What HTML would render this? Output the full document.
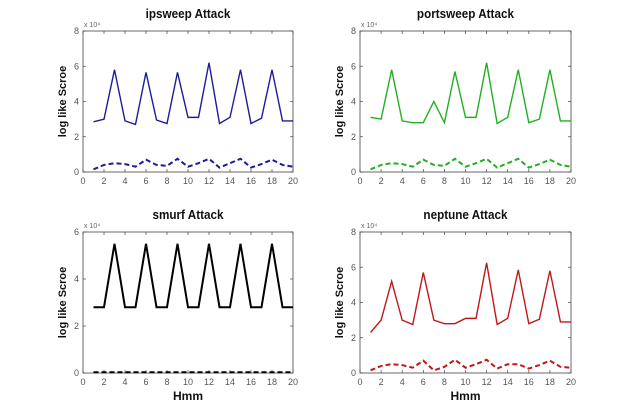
<!DOCTYPE html>
<html><head><meta charset="utf-8"><style>
body{margin:0;background:#fff;}
svg{display:block;font-family:"Liberation Sans",sans-serif;}
</style></head><body>
<svg id="c" width="633" height="413"></svg>
<script>
const xs = [1,2,3,4,5,6,7,8,9,10,11,12,13,14,15,16,17,18,19,20];
const xTicks = [0,2,4,6,8,10,12,14,16,18,20];
const ipsweepSolid = [2.85,3.0,5.8,2.9,2.7,5.65,2.95,2.75,5.65,3.1,3.1,6.2,2.75,3.1,5.8,2.75,3.05,5.8,2.9,2.9];
const ipsweepDash = [0.15,0.4,0.5,0.45,0.3,0.7,0.4,0.35,0.75,0.3,0.5,0.75,0.25,0.5,0.75,0.25,0.45,0.7,0.4,0.3];
const portsweepSolid = [3.1,3.0,5.8,2.9,2.8,2.8,4.0,2.8,5.7,3.1,3.1,6.2,2.75,3.1,5.8,2.8,3.0,5.8,2.9,2.9];
const portsweepDash = [0.15,0.4,0.5,0.45,0.3,0.7,0.4,0.35,0.75,0.3,0.5,0.75,0.25,0.5,0.75,0.25,0.45,0.7,0.4,0.3];
const smurfSolid = [2.8,2.8,5.5,2.8,2.8,5.5,2.8,2.8,5.5,2.8,2.8,5.5,2.8,2.8,5.5,2.8,2.8,5.5,2.8,2.8];
const smurfDash = [0.03,0.03,0.03,0.03,0.03,0.03,0.03,0.03,0.03,0.03,0.03,0.03,0.03,0.03,0.03,0.03,0.03,0.03,0.03,0.03];
const neptuneSolid = [2.3,3.0,5.2,3.0,2.75,5.7,3.0,2.8,2.8,3.1,3.1,6.25,2.75,3.1,5.85,2.8,3.05,5.8,2.9,2.9];
const neptuneDash = [0.15,0.4,0.5,0.45,0.3,0.7,0.15,0.35,0.75,0.3,0.5,0.75,0.25,0.5,0.5,0.25,0.45,0.7,0.35,0.3];
const ticks8 = [0,2,4,6,8];
const ticks6 = [0,2,4,6];

const NS="http://www.w3.org/2000/svg";
const svg=document.getElementById('c');
function mk(t,a,p){const e=document.createElementNS(NS,t);for(const k in a)e.setAttribute(k,a[k]);(p||svg).appendChild(e);return e;}

function panel(id,title,x0,y0,x1,y1,ymax,yt,solid,dash,color,xlabel,sw){
  const g=mk('g',{});
  
  
  const sx=v=>x0+(v/20)*(x1-x0);
  const sy=v=>y1-(v/ymax)*(y1-y0);
  const r=mk('rect',{x:x0,y:y0,width:x1-x0,height:y1-y0,fill:'none',stroke:'#444','stroke-width':0.8},g);
  
  
  xTicks.forEach(v=>{
    const X=sx(v);
    mk('line',{x1:X,x2:X,y1:y1,y2:y1-3,stroke:'#444','stroke-width':0.7},g);
    mk('line',{x1:X,x2:X,y1:y0,y2:y0+3,stroke:'#444','stroke-width':0.7},g);
    const t=mk('text',{x:X,y:y1+12,'font-size':9,fill:'#555','text-anchor':'middle'},g);t.textContent=v;
    
    
  });
  yt.forEach(v=>{
    const Y=sy(v);
    mk('line',{x1:x0,x2:x0+3,y1:Y,y2:Y,stroke:'#444','stroke-width':0.7},g);
    mk('line',{x1:x1,x2:x1-3,y1:Y,y2:Y,stroke:'#444','stroke-width':0.7},g);
    const t=mk('text',{x:x0-4,y:Y+3,'font-size':9,fill:'#555','text-anchor':'end'},g);t.textContent=v;
    
    
  });
  const e=mk('text',{x:x0+1,y:y0-4,'font-size':7,fill:'#666'},g);e.textContent='x 10⁴';
  
  
  const tt=mk('text',{x:(x0+x1)/2,y:y0-13,'font-size':13,'font-weight':'bold','text-anchor':'middle',fill:'#111',transform:`scale(0.9,1) translate(${(x0+x1)/2*0.111},0)`},g);tt.textContent=title;
  
  
  const yl=mk('text',{x:0,y:0,'font-size':11,'font-weight':'bold','text-anchor':'middle',fill:'#111',transform:`translate(${x0-17},${(y0+y1)/2}) rotate(-90)`},g);yl.textContent='log like Scroe';
  
  
  if(xlabel){const xl=mk('text',{x:(x0+x1)/2,y:y1+27,'font-size':12,'font-weight':'bold','text-anchor':'middle',fill:'#111'},g);xl.textContent='Hmm';
    
    }
  const p1=mk('polyline',{points:xs.map((x,i)=>sx(x)+','+sy(solid[i])).join(' '),fill:'none',stroke:color,'stroke-width':sw},g);
  
  
  const p2=mk('polyline',{points:xs.map((x,i)=>sx(x)+','+sy(dash[i])).join(' '),fill:'none',stroke:color,'stroke-width':2,'stroke-dasharray':'5,3'},g);
  
  
}
panel('ipsweep','ipsweep Attack',83,31,293,172,8,ticks8,ipsweepSolid,ipsweepDash,'#1c1c9c',false,1.4);
panel('portsweep','portsweep Attack',360,31,571,172,8,ticks8,portsweepSolid,portsweepDash,'#22b022',false,1.4);
panel('smurf','smurf Attack',83,232,293,373,6,ticks6,smurfSolid,smurfDash,'#000',true,2);
panel('neptune','neptune Attack',360,232,571,373,8,ticks8,neptuneSolid,neptuneDash,'#c01818',true,1.4);
</script>
</body></html>
